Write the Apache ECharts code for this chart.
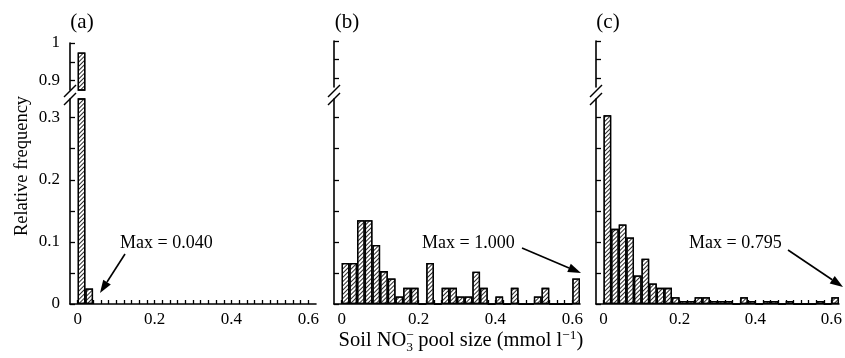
<!DOCTYPE html>
<html><head><meta charset="utf-8">
<script src="https://cdn.jsdelivr.net/npm/echarts@6/dist/echarts.min.js"></script>
<style>html,body{margin:0;padding:0;background:#fff}#c{width:845px;height:358px}</style>
</head><body><div id="c"></div>
<script>
// ---- data ----
const binWidth = 0.02;
const binStarts = [0,0.02,0.04,0.06,0.08,0.10,0.12,0.14,0.16,0.18,0.20,0.22,0.24,0.26,0.28,0.30,
  0.32,0.34,0.36,0.38,0.40,0.42,0.44,0.46,0.48,0.50,0.52,0.54,0.56,0.58,0.60];
const freqA = [0.975, 0.025];
const freqB = [0.066,0.066,0.135,0.135,0.095,0.053,0.041,0.012,0.026,0.026,0,0.066,0,0.026,0.026,
  0.012,0.012,0.052,0.026,0,0.012,0,0.026,0,0,0.012,0.026,0,0,0,0.041];
const freqC = [0.304,0.121,0.128,0.107,0.046,0.073,0.033,0.026,0.026,0.011,0.005,0.005,0.011,0.011,
  0.005,0.005,0.005,0,0.011,0.005,0,0.005,0.005,0,0.005,0,0,0,0.005,0,0.011];
const panelFreqs = [freqA, freqB, freqC];
const panelLabels = ['(a)', '(b)', '(c)'];
const maxLabels = ['Max = 0.040', 'Max = 1.000', 'Max = 0.795'];
const xRange = [-0.02, 0.62];
const xLabelValues = [0, 0.2, 0.4, 0.6];
const yLowerRange = [0, 0.33];
const yLowerTicks = [0, 0.05, 0.1, 0.15, 0.2, 0.25, 0.3];
const yLowerLabels = [0, 0.1, 0.2, 0.3];
const yUpperRange = [0.875, 1];
const yUpperTicks = [0.9, 0.95, 1];
const yUpperLabels = [0.9, 1];
const yTitle = 'Relative frequency';
const xTitleParts = ['Soil NO', '3', '\u2212', ' pool size (mmol l', '\u22121', ')'];

// ---- layout ----
const FONT = '"Liberation Serif", "Times New Roman", serif';
const panelLeft = [70, 334, 596];
const panelWidth = 246;
const upperTop = [43, 41, 41];
const upperHeight = [47, 46, 46];
const lowerTop = 99, lowerHeight = 205;
const fmt = v => String(+(+v).toFixed(2));
const axisLineStyle = {color: '#000', width: 1.6};
const decal = {symbol: 'rect', symbolSize: 1, color: '#2a2a2a', dashArrayX: [1, 0], dashArrayY: [1, 2], rotation: -Math.PI / 4};

const grid = [], xAxis = [], yAxis = [], series = [];
panelFreqs.forEach((freq, p) => {
  const barW = panelWidth * binWidth / (xRange[1] - xRange[0]);
  const data = freq.map((f, i) => [binStarts[i] + binWidth / 2, f]);
  [0, 1].forEach(s => {
    const gi = grid.length;
    const upper = s === 0;
    grid.push({left: panelLeft[p], width: panelWidth,
      top: upper ? upperTop[p] : lowerTop, height: upper ? upperHeight[p] : lowerHeight});
    xAxis.push({type: 'value', gridIndex: gi, min: xRange[0], max: xRange[1], show: !upper,
      axisLine: {onZero: false, lineStyle: axisLineStyle},
      axisTick: {inside: true, length: 4, customValues: binStarts, lineStyle: {color: '#000', width: 1.3}},
      axisLabel: {customValues: xLabelValues, formatter: fmt, fontFamily: FONT, fontSize: 17, color: '#000', margin: 7},
      splitLine: {show: false}});
    yAxis.push({type: 'value', gridIndex: gi,
      min: upper ? yUpperRange[0] : yLowerRange[0], max: upper ? yUpperRange[1] : yLowerRange[1],
      axisLine: {show: true, onZero: false, lineStyle: axisLineStyle},
      axisTick: {show: true, inside: true, length: 5, customValues: upper ? yUpperTicks : yLowerTicks,
        lineStyle: {color: '#000', width: 1.3}},
      axisLabel: {show: p === 0, customValues: upper ? yUpperLabels : yLowerLabels, formatter: fmt,
        fontFamily: FONT, fontSize: 17, color: '#000', margin: 10},
      splitLine: {show: false}});
    series.push({type: 'bar', xAxisIndex: gi, yAxisIndex: gi, data: data, barWidth: barW,
      clip: true, silent: true, animation: false,
      itemStyle: {color: '#fff', borderColor: '#000', borderWidth: 1.3, decal: decal}});
  });
});

// ---- annotations (graphic) ----
const graphic = [];
const txt = (text, x, y, size, align, extra) => Object.assign({type: 'text', x, y,
  style: {text, fontFamily: FONT, fontSize: size, fill: '#000', align: align || 'left', verticalAlign: 'middle'}}, extra || {});
const arrowXY = [[[125, 254], [100, 293]], [[522, 248], [581, 273]], [[788, 250], [843, 287]]];
const maxTextX = [120, 422, 689];
const labelX = [82, 347, 608];
panelLeft.forEach((L, p) => {
  graphic.push(txt(panelLabels[p], labelX[p], 22, 21, 'center'));
  graphic.push(txt(maxLabels[p], maxTextX[p], 243, 18, 'left'));
  graphic.push({type: 'line', shape: {x1: L - 6, y1: 97, x2: L + 6, y2: 85}, style: {stroke: '#000', lineWidth: 1.5}});
  graphic.push({type: 'line', shape: {x1: L - 6, y1: 105, x2: L + 6, y2: 93}, style: {stroke: '#000', lineWidth: 1.5}});
  const [[x1, y1], [x2, y2]] = arrowXY[p];
  const dx = x2 - x1, dy = y2 - y1, len = Math.hypot(dx, dy), ux = dx / len, uy = dy / len;
  const hl = 13, hw = 4.5;
  const bx = x2 - ux * hl, by = y2 - uy * hl;
  graphic.push({type: 'line', shape: {x1, y1, x2: bx, y2: by}, style: {stroke: '#000', lineWidth: 1.6}});
  graphic.push({type: 'polygon', shape: {points: [[x2, y2], [bx - uy * hw, by + ux * hw], [bx + uy * hw, by - ux * hw]]},
    style: {fill: '#000'}});
});
graphic.push(txt(yTitle, 22, 166, 18.5, 'center', {rotation: Math.PI / 2}));

// x title: main text with stacked sub/superscript on NO3
const BIG = 20.5, SMALL = 13.5;
const ctx = document.createElement('canvas').getContext('2d');
const mw = (s, size) => { ctx.font = size + 'px ' + FONT; return ctx.measureText(s).width; };
const wParts = [mw(xTitleParts[0], BIG), mw(xTitleParts[1], SMALL), mw(xTitleParts[3], BIG), mw(xTitleParts[4], SMALL), mw(xTitleParts[5], BIG)];
const totalW = wParts.reduce((a, b) => a + b, 0);
let cx = 461 - totalW / 2;
const midY = 341;
const segs = [[xTitleParts[0], BIG, 0], [xTitleParts[1], SMALL, 6], [xTitleParts[3], BIG, 0], [xTitleParts[4], SMALL, -6], [xTitleParts[5], BIG, 0]];
segs.forEach(([s, size, off], i) => {
  graphic.push({type: 'text', x: cx, y: midY + off, style: {text: s, fontFamily: FONT, fontSize: size, fill: '#000', align: 'left', verticalAlign: 'middle'}});
  if (i === 1) {
    graphic.push({type: 'text', x: cx, y: midY - 6, style: {text: xTitleParts[2], fontFamily: FONT, fontSize: SMALL, fill: '#000', align: 'left', verticalAlign: 'middle'}});
  }
  cx += wParts[i];
});

const chart = echarts.init(document.getElementById('c'), null, {renderer: 'canvas'});
chart.setOption({animation: false, backgroundColor: '#fff', grid, xAxis, yAxis, series, graphic});
</script></body></html>
